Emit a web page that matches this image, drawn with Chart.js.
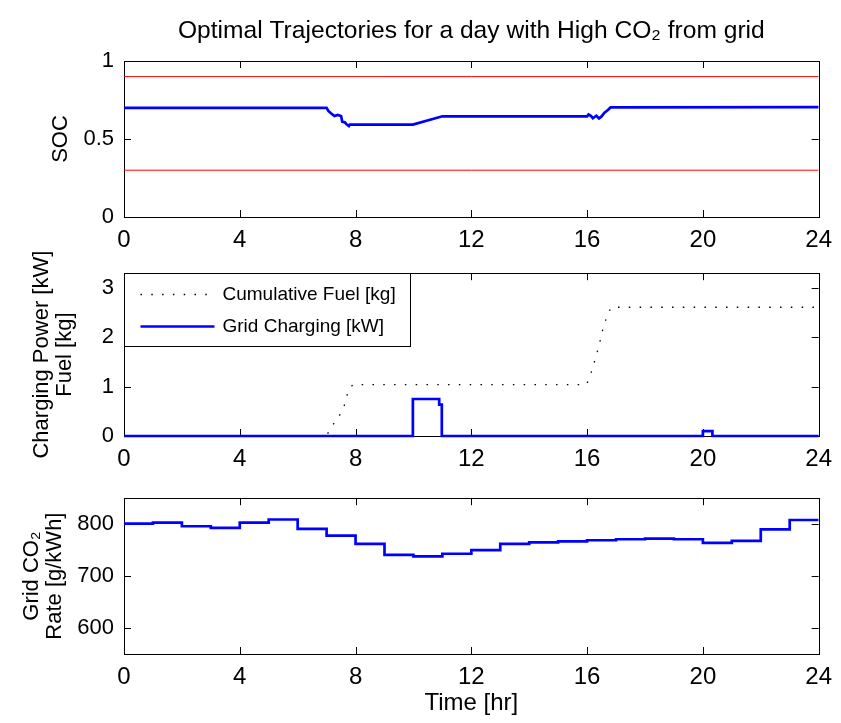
<!DOCTYPE html>
<html>
<head>
<meta charset="utf-8">
<script src="https://cdn.jsdelivr.net/npm/chart.js@4.4.0/dist/chart.umd.min.js"></script>
<style>
  html, body { margin: 0; padding: 0; background: #fff; }
  body { width: 841px; height: 723px; position: relative; overflow: hidden; }
  .panel { position: absolute; left: 0; width: 841px; }
</style>
</head>
<body>
<div class="panel" style="top:0;height:250px"><canvas id="socChart"></canvas></div>
<div class="panel" style="top:250px;height:225px"><canvas id="powerChart"></canvas></div>
<div class="panel" style="top:475px;height:248px"><canvas id="co2Chart"></canvas></div>
<script>
// --- data (time in hours) ---
const titleText = 'Optimal Trajectories for a day with High CO₂ from grid';
const hourTicks = [0, 4, 8, 12, 16, 20, 24];

// state of charge
const socHours  = [0, 7.0, 7.06, 7.15, 7.27, 7.38, 7.5, 7.54, 7.63, 7.69, 7.77, 7.8, 9.98, 11.0, 16.0, 16.05, 16.14, 16.2, 16.32, 16.41, 16.49, 16.6, 16.72, 16.81, 24];
const socValues = [0.70, 0.70, 0.68, 0.665, 0.647, 0.654, 0.647, 0.611, 0.607, 0.594, 0.583, 0.592, 0.592, 0.646, 0.645, 0.657, 0.647, 0.633, 0.649, 0.632, 0.643, 0.669, 0.686, 0.703, 0.705];
const socMax = 0.9;
const socMin = 0.3;
const socTicks = [0, 0.5, 1];

// cumulative fuel [kg]
const fuelHours = [0, 7.0, 7.12, 7.4, 7.58, 7.68, 7.75, 7.92, 15.98, 16.09, 16.2, 16.32, 16.42, 16.5, 16.58, 16.72, 16.83, 24];
const fuelKg    = [0, 0, 0.15, 0.37, 0.56, 0.75, 0.95, 1.04, 1.04, 1.2, 1.39, 1.64, 1.85, 2.06, 2.25, 2.47, 2.61, 2.61];

// grid charging power [kW]
const chargeHours = [0, 9.98, 9.98, 10.89, 10.89, 10.98, 10.98, 20.0, 20.0, 20.33, 20.33, 24];
const chargeKw    = [0, 0, 0.75, 0.75, 0.635, 0.635, 0, 0, 0.1, 0.1, 0, 0];
const powerTicks = [0, 1, 2, 3];

// hourly grid CO2 rate [g/kWh], value holds from that hour to the next
const co2Hours = [0, 1, 2, 3, 4, 5, 6, 7, 8, 9, 10, 11, 12, 13, 14, 15, 16, 17, 18, 19, 20, 21, 22, 23, 24];
const co2Rate  = [801, 803, 796, 793, 803, 809, 791, 778, 762, 741, 738, 743, 750, 762, 765, 767, 769, 771, 772, 771, 764, 768, 790, 808, 808];
const co2Ticks = [600, 700, 800];

const fontFamily = '"Liberation Sans", Arial, Helvetica, sans-serif';
Chart.defaults.font.family = fontFamily;
Chart.defaults.color = '#000';

function pts(xs, ys) {
    return xs.map(function(x, i) { return { x: x, y: ys[i] }; });
}

// matlab style box with inward ticks on all four sides
const boxTicks = {
    id: 'boxTicks',
    beforeDatasetsDraw(chart) {
        const ctx = chart.ctx;
        const a = chart.chartArea;
        const xs = chart.scales.x, ys = chart.scales.y;
        const len = 7;
        ctx.save();
        ctx.strokeStyle = '#000';
        ctx.lineWidth = 1;
        ctx.strokeRect(Math.round(a.left) + 0.5, Math.round(a.top) + 0.5,
            Math.round(a.right) - Math.round(a.left), Math.round(a.bottom) - Math.round(a.top));
        ctx.beginPath();
        xs.ticks.forEach(function(t) {
            const px = Math.round(xs.getPixelForValue(t.value)) + 0.5;
            ctx.moveTo(px, a.bottom); ctx.lineTo(px, a.bottom - len);
            ctx.moveTo(px, a.top); ctx.lineTo(px, a.top + len);
        });
        ys.ticks.forEach(function(t) {
            const py = Math.round(ys.getPixelForValue(t.value)) + 0.5;
            ctx.moveTo(a.left, py); ctx.lineTo(a.left + len, py);
            ctx.moveTo(a.right, py); ctx.lineTo(a.right - len, py);
        });
        ctx.stroke();
        ctx.restore();
    }
};

// boxed legend in the upper left corner of the plot
const insetLegend = {
    id: 'insetLegend',
    afterDatasetsDraw(chart, args, opts) {
        if (!opts.show) return;
        const ctx = chart.ctx;
        const a = chart.chartArea;
        const x0 = Math.round(a.left) + 0.5, y0 = Math.round(a.top) + 0.5;
        ctx.save();
        ctx.fillStyle = '#fff';
        ctx.fillRect(x0, y0, opts.width, opts.height);
        ctx.strokeStyle = '#000';
        ctx.lineWidth = 1;
        ctx.strokeRect(x0, y0, opts.width, opts.height);
        ctx.font = opts.fontSize + 'px ' + fontFamily;
        ctx.textBaseline = 'middle';
        chart.data.datasets.forEach(function(ds, i) {
            const y = y0 + opts.firstRow + i * opts.rowGap;
            ctx.strokeStyle = ds.borderColor;
            ctx.lineWidth = ds.borderWidth;
            ctx.setLineDash(ds.borderDash || []);
            ctx.beginPath();
            ctx.moveTo(x0 + 16, y);
            ctx.lineTo(x0 + 90, y);
            ctx.stroke();
            ctx.setLineDash([]);
            ctx.fillStyle = '#000';
            ctx.fillText(ds.label, x0 + 98, y);
        });
        ctx.restore();
    }
};

function fixedTicks(values) {
    return function(s) { s.ticks = values.map(function(v) { return { value: v }; }); };
}

function plotOptions(cfg) {
    return {
        responsive: true,
        maintainAspectRatio: false,
        animation: false,
        layout: { padding: { left: cfg.padLeft, right: 17, top: cfg.padTop, bottom: 0 } },
        plugins: {
            legend: { display: false },
            tooltip: { enabled: false },
            title: cfg.title || { display: false },
            insetLegend: cfg.legend || { show: false }
        },
        scales: {
            x: {
                type: 'linear',
                min: 0,
                max: 24,
                grid: { display: false, drawTicks: false },
                border: { display: false },
                afterBuildTicks: fixedTicks(hourTicks),
                ticks: { padding: 9, font: { size: 24 }, callback: function(v) { return String(v); } },
                title: cfg.xTitle || { display: false },
                afterFit: function(s) { s.height = cfg.xHeight; }
            },
            y: {
                type: 'linear',
                min: cfg.yMin,
                max: cfg.yMax,
                grid: { display: false, drawTicks: false },
                border: { display: false },
                afterBuildTicks: fixedTicks(cfg.yTicks),
                ticks: { padding: 10, font: { size: 22 }, callback: function(v) { return String(v); } },
                title: { display: true, text: cfg.yTitle, padding: 0, font: { size: 22, lineHeight: 1.05 } },
                afterFit: function(s) { s.width = 124 - cfg.padLeft; }
            }
        }
    };
}

// SOC
new Chart(document.getElementById('socChart'), {
    type: 'line',
    data: {
        datasets: [
            { label: 'SOC', data: pts(socHours, socValues), borderColor: '#0000ff', borderWidth: 2.7, pointRadius: 0, tension: 0 },
            { label: 'SOC max', data: pts([0, 24], [socMax, socMax]), borderColor: '#ff0000', borderWidth: 1, pointRadius: 0 },
            { label: 'SOC min', data: pts([0, 24], [socMin, socMin]), borderColor: '#ff0000', borderWidth: 1, pointRadius: 0 }
        ]
    },
    options: plotOptions({
        padLeft: 49, padTop: 0, xHeight: 33,
        yMin: 0, yMax: 1, yTicks: socTicks, yTitle: 'SOC',
        title: {
            display: true, text: titleText, fullSize: false, color: '#000',
            font: { size: 24.6, weight: 'normal', lineHeight: 1.2 },
            padding: { top: 16, bottom: 15.5 }
        }
    }),
    plugins: [boxTicks]
});

// charging power and fuel
new Chart(document.getElementById('powerChart'), {
    type: 'line',
    data: {
        datasets: [
            { label: 'Cumulative Fuel [kg]', data: pts(fuelHours, fuelKg), borderColor: '#000000', borderWidth: 1.3, borderDash: [1.5, 9.3], pointRadius: 0, order: 1 },
            { label: 'Grid Charging [kW]', data: pts(chargeHours, chargeKw), borderColor: '#0000ff', borderWidth: 2.7, pointRadius: 0, clip: 4, order: 0 }
        ]
    },
    options: plotOptions({
        padLeft: 30, padTop: 13, xHeight: 39,
        yMin: 0, yMax: 3.3, yTicks: powerTicks, yTitle: ['Charging Power [kW]', 'Fuel [kg]'],
        legend: { show: true, width: 286, height: 73, firstRow: 21, rowGap: 32, fontSize: 19 }
    }),
    plugins: [boxTicks, insetLegend]
});

// grid CO2 rate
new Chart(document.getElementById('co2Chart'), {
    type: 'line',
    data: {
        datasets: [
            { label: 'Grid CO₂ Rate', data: pts(co2Hours, co2Rate), borderColor: '#0000ff', borderWidth: 2.7, pointRadius: 0, stepped: 'before' }
        ]
    },
    options: plotOptions({
        padLeft: 20, padTop: 22, xHeight: 69,
        yMin: 550, yMax: 850, yTicks: co2Ticks, yTitle: ['Grid CO₂', 'Rate [g/kWh]'],
        xTitle: { display: true, text: 'Time [hr]', font: { size: 24 }, padding: { top: 4, bottom: 5 } }
    }),
    plugins: [boxTicks]
});
</script>
</body>
</html>
